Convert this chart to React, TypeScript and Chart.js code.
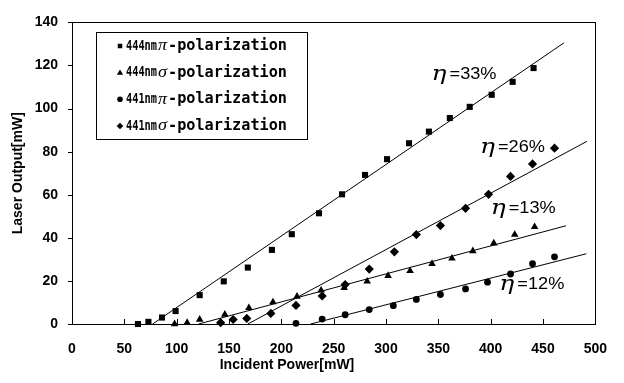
import React, { useEffect, useRef } from "react";
import { Chart, registerables } from "chart.js";

Chart.register(...registerables);

// ---- data ----
const SQ_X = [63, 73, 86, 99, 122, 145, 168, 191, 210, 236, 258, 280, 301, 322, 341, 361, 380, 401, 421, 441];
const SQ_Y = [0, 1, 3, 6, 13.4, 19.8, 26.2, 34.4, 41.7, 51.4, 60.2, 69.2, 76.5, 83.9, 89.3, 95.6, 100.8, 106.4, 112.4, 118.8];

const TRI_X = [98, 110, 122, 146, 169, 192, 215, 238, 260, 282, 302, 323, 344, 363, 383, 403, 423, 442];
const TRI_Y = [0, 0.6, 2.1, 4.4, 7.5, 10.2, 12.8, 15.6, 16.8, 19.8, 22.4, 24.7, 28, 30.5, 33.9, 37.5, 41.5, 45.1];

const CIR_X = [214, 239, 261, 284, 307, 329, 352, 376, 397, 419, 440, 461];
const CIR_Y = [0.3, 2.3, 4.3, 6.7, 8.5, 11.4, 13.7, 16.3, 19.4, 23.2, 28, 31.2];

const DIA_X = [142, 154, 167, 190, 214, 239, 261, 284, 308, 329, 352, 376, 398, 419, 440, 461];
const DIA_Y = [0.6, 2.1, 2.6, 4.9, 8.6, 13, 18.3, 25.5, 33.5, 41.5, 45.7, 53.7, 60.2, 68.5, 74.3, 81.6];

// linear fits (endpoints)
const FIT33_X = [77, 470];
const FIT33_Y = [0, 130.5];
const FIT26_X = [168, 492];
const FIT26_Y = [0, 84.8];
const FIT13_X = [121, 472];
const FIT13_Y = [0, 45.6];
const FIT12_X = [228, 491.4];
const FIT12_Y = [0, 32.6];

const X_TICKS = [0, 50, 100, 150, 200, 250, 300, 350, 400, 450, 500];
const Y_TICKS = [0, 20, 40, 60, 80, 100, 120, 140];

const LEGEND_PARTS = [
  ["444nm", "π", "-polarization"],
  ["444nm", "σ", "-polarization"],
  ["441nm", "π", "-polarization"],
  ["441nm", "σ", "-polarization"],
];

const ETA_LABELS = ["=33%", "=26%", "=13%", "=12%"];
// label anchor (data units): left x, center y
const ETA_POS = [
  [343.5, 115.8],
  [389.8, 82],
  [400, 53.6],
  [408.3, 18.4],
];

const zip = (xs: number[], ys: number[]) => xs.map((x, i) => ({ x, y: ys[i] }));

const SANS = "'Liberation Sans', Arial, sans-serif";

function drawScaled(ctx: CanvasRenderingContext2D, text: string, x: number, y: number, width: number) {
  const m = ctx.measureText(text).width;
  ctx.save();
  ctx.translate(x, y);
  ctx.scale(width / m, 1);
  ctx.fillText(text, 0, 0);
  ctx.restore();
}

function drawMarker(ctx: CanvasRenderingContext2D, style: string, x: number, y: number, r: number) {
  ctx.beginPath();
  if (style === "rect") {
    ctx.rect(x - r * 0.75, y - r * 0.75, r * 1.5, r * 1.5);
  } else if (style === "triangle") {
    ctx.moveTo(x, y - r);
    ctx.lineTo(x + r * 0.95, y + r * 0.6);
    ctx.lineTo(x - r * 0.95, y + r * 0.6);
    ctx.closePath();
  } else if (style === "circle") {
    ctx.arc(x, y, r * 0.85, 0, Math.PI * 2);
  } else {
    ctx.moveTo(x, y - r);
    ctx.lineTo(x + r, y);
    ctx.lineTo(x, y + r);
    ctx.lineTo(x - r, y);
    ctx.closePath();
  }
  ctx.fill();
}

const overlay = {
  id: "overlay",
  afterDraw(chart: any) {
    const { ctx, chartArea: a, scales } = chart;
    const xs = scales.x;
    const ys = scales.y;
    ctx.save();
    ctx.strokeStyle = "#000";
    ctx.lineWidth = 1;
    // frame
    ctx.strokeRect(Math.round(a.left) + 0.5, Math.round(a.top) + 0.5, Math.round(a.right - a.left), Math.round(a.bottom - a.top));
    // x ticks (inward)
    ctx.beginPath();
    X_TICKS.forEach((v) => {
      const px = Math.round(xs.getPixelForValue(v)) + 0.5;
      ctx.moveTo(px, a.bottom);
      ctx.lineTo(px, a.bottom - 5);
    });
    // y ticks (outward)
    Y_TICKS.forEach((v) => {
      const py = Math.round(ys.getPixelForValue(v)) + 0.5;
      ctx.moveTo(a.left - 4, py);
      ctx.lineTo(a.left, py);
    });
    ctx.stroke();

    // axis titles
    ctx.fillStyle = "#000";
    ctx.textAlign = "center";
    ctx.textBaseline = "middle";
    ctx.font = `bold 14px ${SANS}`;
    ctx.fillText("Incident Power[mW]", 287, 365);
    ctx.save();
    ctx.translate(18.5, (a.top + a.bottom) / 2);
    ctx.rotate(-Math.PI / 2);
    ctx.font = `bold 14px ${SANS}`;
    ctx.fillText("Laser Output[mW]", 0, 0);
    ctx.restore();

    // eta annotations
    ctx.textAlign = "left";
    ETA_LABELS.forEach((t, i) => {
      const px = xs.getPixelForValue(ETA_POS[i][0]);
      const py = ys.getPixelForValue(ETA_POS[i][1]);
      ctx.font = `italic 21px 'DejaVu Serif', serif`;
      drawScaled(ctx, "η", px, py, 15);
      ctx.font = `17px ${SANS}`;
      drawScaled(ctx, t, px + 18, py, 47);
    });

    // legend box
    const lx = 96, ly = 32, lw = 211, lh = 107;
    ctx.fillStyle = "#fff";
    ctx.fillRect(lx, ly, lw, lh);
    ctx.strokeStyle = "#000";
    ctx.strokeRect(lx + 0.5, ly + 0.5, lw, lh);
    const rowY = [46, 72.7, 99.3, 126];
    chart.data.datasets.slice(0, 4).forEach((ds: any, i: number) => {
      const y = rowY[i];
      ctx.fillStyle = "#000";
      drawMarker(ctx, ds.pointStyle, 120, y, ds.pointStyle === "rect" ? 3 : 3.3);
      ctx.textBaseline = "middle";
      const [a1, g, a2] = LEGEND_PARTS[i];
      ctx.font = `bold 14px 'DejaVu Sans Mono', monospace`;
      drawScaled(ctx, a1, 126, y, 31);
      ctx.font = `italic 16px 'Liberation Serif', 'DejaVu Serif', serif`;
      drawScaled(ctx, g, 158, y, 9);
      ctx.font = `bold 15px 'DejaVu Sans Mono', monospace`;
      drawScaled(ctx, a2, 168, y, 119);
    });
    ctx.restore();
  },
};

export default function App() {
  const ref = useRef<HTMLCanvasElement | null>(null);
  useEffect(() => {
    document.body.style.margin = "0";
    if (!ref.current) return;
    const pt = (style: string, data: any[], r: number) => ({
      type: "scatter" as const,
      data,
      pointStyle: style,
      pointRadius: r,
      pointHoverRadius: r,
      backgroundColor: "#000",
      borderColor: "#000",
      borderWidth: 0,
      clip: false as any,
      showLine: false,
    });
    const fit = (xs: number[], ys: number[]) => ({
      type: "line" as const,
      data: zip(xs, ys),
      borderColor: "#000",
      borderWidth: 1,
      pointRadius: 0,
      fill: false,
      showLine: true,
      clip: false as any,
    });
    const chart = new Chart(ref.current, {
      type: "scatter",
      data: {
        datasets: [
          pt("rect", zip(SQ_X, SQ_Y), 4.3),
          pt("triangle", zip(TRI_X, TRI_Y), 4.4),
          pt("circle", zip(CIR_X, CIR_Y), 3.4),
          pt("rectRot", zip(DIA_X, DIA_Y), 4.6),
          fit(FIT33_X, FIT33_Y),
          fit(FIT26_X, FIT26_Y),
          fit(FIT13_X, FIT13_Y),
          fit(FIT12_X, FIT12_Y),
        ] as any,
      },
      options: {
        animation: false,
        responsive: false,
        layout: { padding: { left: 0, right: 12, top: 18, bottom: 0 } },
        plugins: { legend: { display: false }, tooltip: { enabled: false } },
        scales: {
          x: {
            type: "linear",
            min: 0,
            max: 500,
            afterFit: (s: any) => { s.height = 59; },
            afterBuildTicks: (s: any) => { s.ticks = X_TICKS.map((v) => ({ value: v })); },
            ticks: { color: "#000", padding: 17, font: { family: SANS, size: 14, weight: "bold" }, maxRotation: 0 },
            grid: { display: false, drawTicks: false, tickLength: 0 },
            border: { display: false },
          },
          y: {
            type: "linear",
            min: 0,
            max: 140,
            afterFit: (s: any) => { s.width = 72; },
            afterBuildTicks: (s: any) => { s.ticks = Y_TICKS.map((v) => ({ value: v })); },
            ticks: { color: "#000", padding: 14, font: { family: SANS, size: 14, weight: "bold" } },
            grid: { display: false, drawTicks: false, tickLength: 0 },
            border: { display: false },
          },
        },
      },
      plugins: [overlay],
    });
    return () => chart.destroy();
  }, []);
  return (
    <div style={{ width: 624, height: 383 }}>
      <canvas ref={ref} width={624} height={383} />
    </div>
  );
}
